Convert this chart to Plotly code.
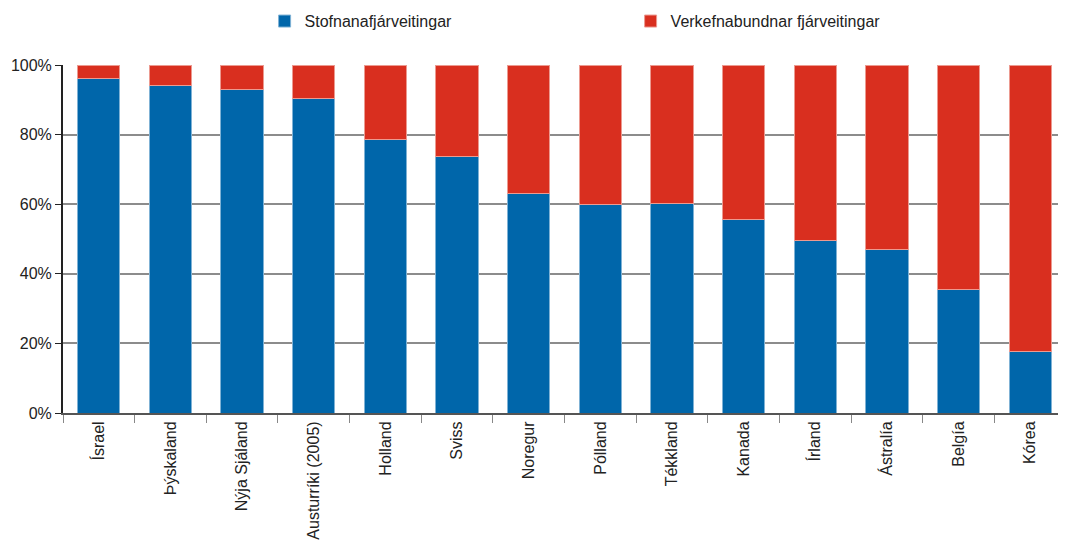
import plotly.graph_objects as go

categories = ["Ísrael", "Þýskaland", "Nýja Sjáland", "Austurríki (2005)", "Holland", "Sviss",
              "Noregur", "Pólland", "Tékkland", "Kanada", "Írland", "Ástralía", "Belgía", "Kórea"]
stofnana = [96.0, 94.0, 93.1, 90.5, 78.7, 73.6, 63.2, 59.8, 60.1, 55.7, 49.7, 47.1, 35.6, 17.8]
verkefna = [round(100 - v, 1) for v in stofnana]
y_ticks = [0, 20, 40, 60, 80, 100]
y_labels = ["0%", "20%", "40%", "60%", "80%", "100%"]

FONT = "Liberation Sans, Arial, sans-serif"

fig = go.Figure()
fig.add_trace(go.Bar(x=categories, y=stofnana, name="Stofnanafjárveitingar",
                     marker=dict(color="#0066AA", line=dict(color="#7FB2D5", width=1))))
fig.add_trace(go.Bar(x=categories, y=verkefna, name="Verkefnabundnar fjárveitingar",
                     marker=dict(color="#D92F1F", line=dict(color="#EC9A90", width=1))))

fig.update_layout(
    barmode="stack",
    bargap=0.41,
    width=1058, height=534,
    margin=dict(l=55, r=0, t=57, b=129, autoexpand=False),
    plot_bgcolor="white", paper_bgcolor="white",
    font=dict(family=FONT, size=16, color="#222222"),
    legend=dict(orientation="h", traceorder="normal", x=0.201, xanchor="left",
                y=1.126, yanchor="middle", entrywidth=321, entrywidthmode="pixels",
                font=dict(size=16), itemwidth=30),
    showlegend=True,
)
fig.update_xaxes(tickangle=-90, showline=True, linecolor="#555555", linewidth=2,
                 ticks="outside", tickson="boundaries", ticklen=8, tickcolor="#888888",
                 showgrid=False, tickfont=dict(size=16), automargin=False)
fig.update_yaxes(range=[0, 100], tickvals=y_ticks, ticktext=y_labels, showline=True,
                 linecolor="#222222", linewidth=2, ticks="outside", ticklen=6,
                 tickcolor="#222222", showgrid=True, gridcolor="#8C8C8C", gridwidth=1.5,
                 tickfont=dict(size=16), zeroline=False, automargin=False)

fig.write_html("out.html")
